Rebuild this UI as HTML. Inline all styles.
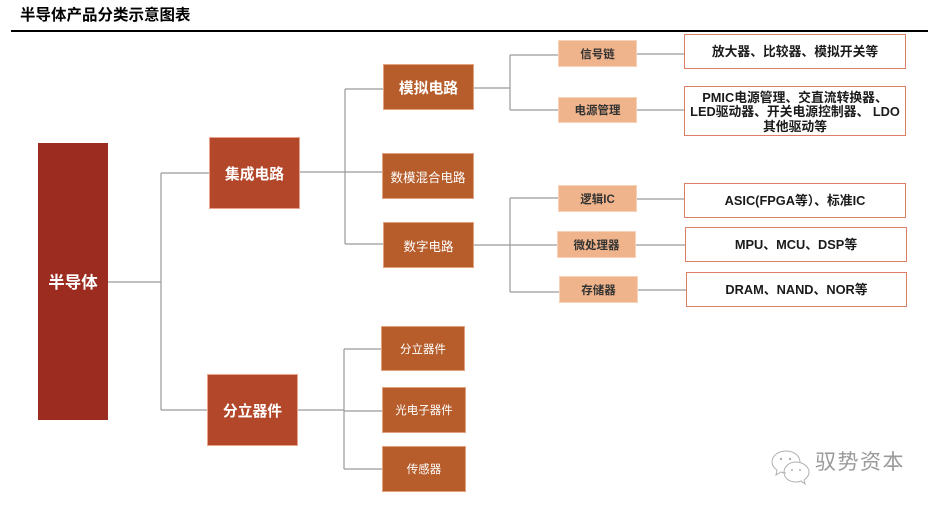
<!DOCTYPE html>
<html><head><meta charset="utf-8"><style>
html,body{margin:0;padding:0;background:#fff;}
body{width:937px;height:509px;position:relative;overflow:hidden;font-family:"Liberation Sans","Noto Sans CJK SC",sans-serif;}
.b{position:absolute;display:flex;align-items:center;justify-content:center;text-align:center;box-sizing:border-box;white-space:nowrap;}
.r0{background:#9c2b20;color:#fff;font-weight:bold;font-size:16.5px;}
.r1{background:#b2472a;color:#fff;font-weight:bold;font-size:14.8px;border:1px solid #e8a48c;}
.r2{background:#b65d2b;color:#fff;font-size:12.5px;border:1px solid #e2a27e;}
.r2b{font-weight:bold;font-size:14.8px;}
.r3{background:#b65d2b;color:#fff;font-size:11.5px;border:1px solid #e2a27e;}
.lt{background:#efb48b;color:#333;font-size:11.5px;font-weight:bold;border:1px solid #f6d2b8;}
.wb{background:#fff;border:1.5px solid #dc7f66;color:#1a1a1a;font-weight:bold;font-size:12.8px;line-height:14.5px;}
</style></head><body>
<div style="position:absolute;left:20px;top:3px;font-size:15.5px;font-weight:bold;color:#000;white-space:nowrap;">半导体产品分类示意图表</div>
<div style="position:absolute;left:11px;top:30px;width:917px;height:1.5px;background:#000;"></div>

<svg width="937" height="509" style="position:absolute;left:0;top:0;" fill="none" stroke="#9a9a9a" stroke-width="1.2">
<path d="M108 282H161M161 173V410M161 173H209M161 410H207"/>
<path d="M300 172H382M345 89V244M345 89H383M345 244H383"/>
<path d="M474 88H510M510 55V110M510 55H558M510 110H558"/>
<path d="M637 54H684M637 110H684"/>
<path d="M474 245H510M510 198V292M510 198H558M510 245H557M510 292H559"/>
<path d="M637 199H684M636 245H685M638 290H686"/>
<path d="M298 410H344M344 349V469M344 349H381M344 411H382M344 469H382"/>
<g stroke="#b0b0b0" stroke-width="1">
<path d="M786 451c-8 0-14 5-14 11c0 3 2 6 5 8l-1 5l5-3c2 1 3 1 5 1"/>
<path d="M786 451c8 0 14 5 14 11"/>
<path d="M796 462c-7 0-12 5-12 10c0 6 5 10 12 10c2 0 3 0 5-1l4 3l-1-4c3-2 5-5 5-8c0-5-6-10-13-10z"/>
</g>
<g fill="#b0b0b0" stroke="none">
<circle cx="781" cy="459" r="1.2"/><circle cx="790" cy="459" r="1.2"/>
<circle cx="792" cy="470" r="1"/><circle cx="800" cy="470" r="1"/>
</g>
</svg>

<div class="b r0" style="left:38px;top:143px;width:70px;height:277px;align-items:flex-start;padding-top:126px;">半导体</div>

<div class="b r1" style="left:209px;top:137px;width:91px;height:72px;">集成电路</div>
<div class="b r1" style="left:207px;top:374px;width:91px;height:72px;">分立器件</div>

<div class="b r2 r2b" style="left:383px;top:64px;width:91px;height:46px;">模拟电路</div>
<div class="b r2" style="left:382px;top:153px;width:92px;height:46px;">数模混合电路</div>
<div class="b r2" style="left:383px;top:222px;width:91px;height:46px;">数字电路</div>

<div class="b r3" style="left:381px;top:326px;width:84px;height:45px;">分立器件</div>
<div class="b r3" style="left:382px;top:387px;width:84px;height:46px;">光电子器件</div>
<div class="b r3" style="left:382px;top:446px;width:84px;height:46px;">传感器</div>

<div class="b lt" style="left:558px;top:40px;width:79px;height:27px;">信号链</div>
<div class="b lt" style="left:558px;top:97px;width:79px;height:26px;">电源管理</div>
<div class="b lt" style="left:558px;top:185px;width:79px;height:27px;">逻辑IC</div>
<div class="b lt" style="left:557px;top:231px;width:79px;height:27px;">微处理器</div>
<div class="b lt" style="left:559px;top:276px;width:79px;height:27px;">存储器</div>

<div class="b wb" style="left:684px;top:34px;width:222px;height:35px;padding-top:1px;">放大器、比较器、模拟开关等</div>
<div class="b wb" style="left:684px;top:86px;width:222px;height:50px;padding-top:3px;">PMIC电源管理、交直流转换器、<br>LED驱动器、开关电源控制器、 LDO<br>其他驱动等</div>
<div class="b wb" style="left:684px;top:183px;width:222px;height:35px;padding-top:1px;">ASIC(FPGA等）、标准IC</div>
<div class="b wb" style="left:685px;top:227px;width:222px;height:35px;padding-top:1px;">MPU、MCU、DSP等</div>
<div class="b wb" style="left:686px;top:272px;width:221px;height:35px;padding-top:1px;">DRAM、NAND、NOR等</div>

<div style="position:absolute;left:815px;top:451px;font-size:21px;color:#9a9a9a;letter-spacing:1.5px;white-space:nowrap;line-height:24px;">驭势资本</div>
</body></html>
